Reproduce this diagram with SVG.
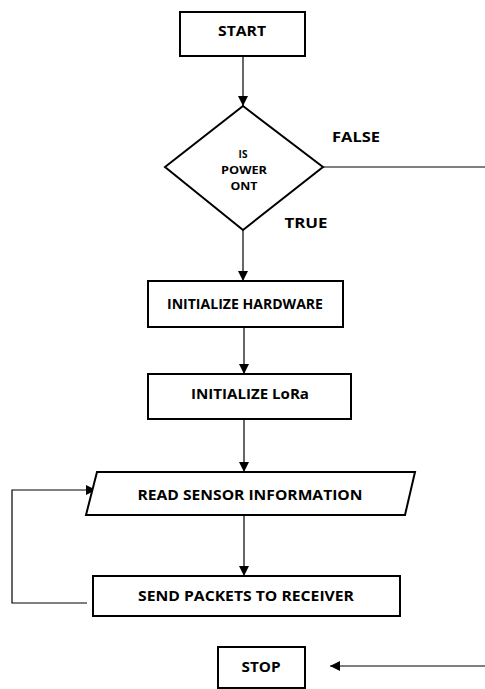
<svg xmlns="http://www.w3.org/2000/svg" width="485" height="689" viewBox="0 0 485 689">
<style>
.box{fill:#fff;stroke:#000;stroke-width:2}
.t{font-family:"Open Sans","Liberation Sans",sans-serif;font-weight:bold;fill:#000;text-anchor:middle}
.c{fill:none;stroke:#000;stroke-width:1.2}
</style>
<defs>
<marker id="ah" viewBox="0 0 10 10" refX="10" refY="5" markerWidth="10" markerHeight="10" markerUnits="userSpaceOnUse" orient="auto">
<path d="M0,0 L10,5 L0,10 z" fill="#000"/>
</marker>
</defs>
<rect width="485" height="689" fill="#fff"/>
<g id="connectors">
<line class="c" x1="243" y1="56" x2="243" y2="106" marker-end="url(#ah)"/>
<line class="c" x1="323" y1="167" x2="485" y2="167"/>
<line class="c" x1="243" y1="230" x2="243" y2="281" marker-end="url(#ah)"/>
<line class="c" x1="244" y1="327" x2="244" y2="374" marker-end="url(#ah)"/>
<line class="c" x1="244" y1="419" x2="244" y2="472" marker-end="url(#ah)"/>
<line class="c" x1="244" y1="515" x2="244" y2="576" marker-end="url(#ah)"/>
<polyline class="c" points="87,603 12,603 12,490 96,490" marker-end="url(#ah)"/>
<line class="c" x1="485" y1="666" x2="330" y2="666" marker-end="url(#ah)"/>
</g>
<g id="start">
<rect class="box" x="180" y="12" width="125" height="44"/>
<text class="t" x="242" y="36" font-size="14" textLength="48" lengthAdjust="spacingAndGlyphs">START</text>
</g>
<g id="decision">
<polygon class="box" points="243,106 323,167 243,230 165,167"/>
<text class="t" x="243" y="158" font-size="10">IS</text>
<text class="t" x="244" y="174" font-size="10" textLength="46" lengthAdjust="spacingAndGlyphs">POWER</text>
<text class="t" x="244" y="190" font-size="10" textLength="27" lengthAdjust="spacingAndGlyphs">ONT</text>
</g>
<g id="label-false">
<text class="t" x="356" y="142" font-size="15" textLength="48" lengthAdjust="spacingAndGlyphs">FALSE</text>
</g>
<g id="label-true">
<text class="t" x="306" y="228" font-size="15" textLength="43" lengthAdjust="spacingAndGlyphs">TRUE</text>
</g>
<g id="init-hw">
<rect class="box" x="148" y="281" width="195" height="46"/>
<text class="t" x="245" y="309" font-size="13.5" textLength="156" lengthAdjust="spacingAndGlyphs">INITIALIZE HARDWARE</text>
</g>
<g id="init-lora">
<rect class="box" x="148" y="374" width="203" height="45"/>
<text class="t" x="250" y="399" font-size="13.5" textLength="118" lengthAdjust="spacingAndGlyphs">INITIALIZE LoRa</text>
</g>
<g id="read-sensor">
<polygon class="box" points="97,472 415,472 405,515 86,515"/>
<text class="t" x="250" y="500" font-size="13.5" textLength="225" lengthAdjust="spacingAndGlyphs">READ SENSOR INFORMATION</text>
</g>
<g id="send-packets">
<rect class="box" x="93" y="576" width="307" height="40"/>
<text class="t" x="246" y="601" font-size="13.5" textLength="216" lengthAdjust="spacingAndGlyphs">SEND PACKETS TO RECEIVER</text>
</g>
<g id="stop">
<rect class="box" x="218" y="647" width="87" height="41"/>
<text class="t" x="261" y="672" font-size="13.5" textLength="39" lengthAdjust="spacingAndGlyphs">STOP</text>
</g>
</svg>
